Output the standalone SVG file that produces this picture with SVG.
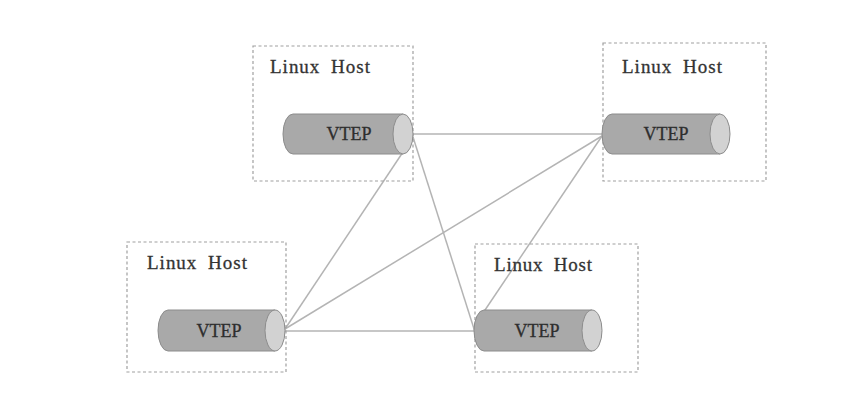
<svg xmlns="http://www.w3.org/2000/svg" width="867" height="405" viewBox="0 0 867 405">
<style>
.host{fill:none;stroke:#a0a0a0;stroke-width:1.2;stroke-dasharray:3 2.5}
.lbl{font-family:"Liberation Serif","Times New Roman",serif;font-size:19px;fill:#333;stroke:#333;stroke-width:0.3;word-spacing:5px}
.body{fill:#a9a9a9;stroke:#8c8c8c;stroke-width:1}
.cap{fill:#d2d2d2;stroke:#8c8c8c;stroke-width:1}
.vt{font-family:"Liberation Serif","Times New Roman",serif;font-size:18px;fill:#2e2e2e;stroke:#2e2e2e;stroke-width:0.3;text-anchor:middle}
.link{stroke:#b4b4b4;stroke-width:1.5;fill:none}
</style>
<rect width="867" height="405" fill="#fff"/>
<g id="connectors">
<line class="link" x1="413" y1="134" x2="602" y2="134"/>
<line class="link" x1="413" y1="137" x2="285" y2="329"/>
<line class="link" x1="413" y1="137" x2="475" y2="332"/>
<line class="link" x1="602" y1="136" x2="285" y2="329"/>
<line class="link" x1="602" y1="136" x2="481" y2="316"/>
<line class="link" x1="285" y1="331" x2="475" y2="331"/>
</g>
<g id="host1">
<rect class="host" x="253" y="46" width="160" height="135"/>
<text class="lbl" x="270" y="73" textLength="100" lengthAdjust="spacing">Linux Host</text>
<path class="body" d="M403 114 H293 A10 20 0 0 0 293 154 H403 Z"/>
<ellipse class="cap" cx="403" cy="134" rx="10" ry="20"/>
<text class="vt" x="349" y="140">VTEP</text>
</g>
<g id="host2">
<rect class="host" x="603" y="43" width="163" height="138"/>
<text class="lbl" x="622" y="73" textLength="100" lengthAdjust="spacing">Linux Host</text>
<path class="body" d="M720 114 H612 A10 20 0 0 0 612 154 H720 Z"/>
<ellipse class="cap" cx="720" cy="134" rx="10" ry="20"/>
<text class="vt" x="666" y="140">VTEP</text>
</g>
<g id="host3">
<rect class="host" x="127" y="242" width="159" height="130"/>
<text class="lbl" x="147" y="269" textLength="100" lengthAdjust="spacing">Linux Host</text>
<path class="body" d="M275 310 H168 A10 20.5 0 0 0 168 351 H275 Z"/>
<ellipse class="cap" cx="275" cy="330.5" rx="10" ry="20.5"/>
<text class="vt" x="219" y="337">VTEP</text>
</g>
<g id="host4">
<rect class="host" x="475" y="244" width="163" height="128"/>
<text class="lbl" x="494" y="271" textLength="98" lengthAdjust="spacing">Linux Host</text>
<path class="body" d="M592 310 H484 A10 20.5 0 0 0 484 351 H592 Z"/>
<ellipse class="cap" cx="592" cy="330.5" rx="10" ry="20.5"/>
<text class="vt" x="537" y="337">VTEP</text>
</g>
</svg>
